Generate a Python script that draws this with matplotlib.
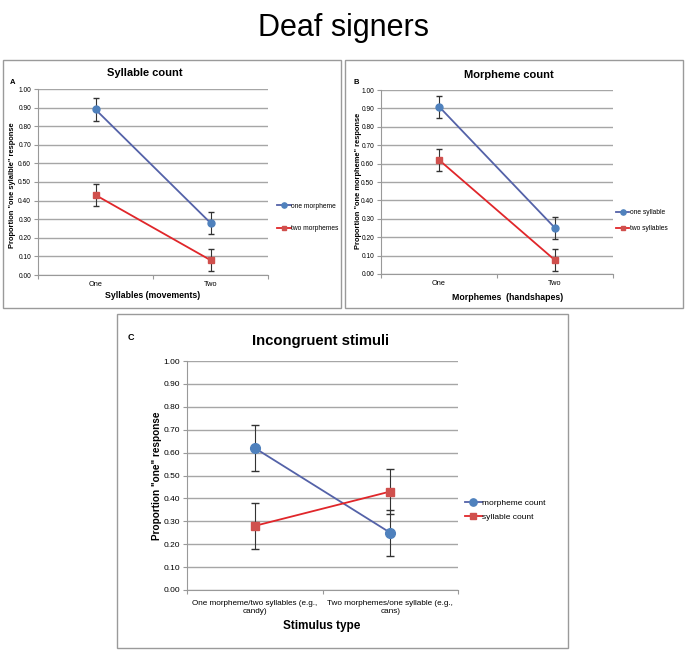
import matplotlib.pyplot as plt
from matplotlib.patches import Rectangle
from matplotlib.lines import Line2D
import numpy as np

plt.rcParams['font.family'] = ['Liberation Sans', 'DejaVu Sans']

W, H = 686, 652

# panel A: syllable count
a_cats = ["One", "Two"]
a_one_morph = [0.89, 0.28]
a_one_morph_err = [0.06, 0.06]
a_two_morph = [0.43, 0.08]
a_two_morph_err = [0.06, 0.06]

# panel B: morpheme count
b_cats = ["One", "Two"]
b_one_syl = [0.91, 0.25]
b_one_syl_err = [0.06, 0.06]
b_two_syl = [0.62, 0.075]
b_two_syl_err = [0.06, 0.06]

# panel C: incongruent stimuli
c_cats = ["One morpheme/two syllables (e.g.,\ncandy)",
          "Two morphemes/one syllable (e.g.,\ncans)"]
c_morph = [0.62, 0.25]
c_morph_err = [0.10, 0.10]
c_syl = [0.28, 0.43]
c_syl_err = [0.10, 0.10]

BLUE_LINE = "#5462a8"
BLUE_MARK = "#4f81bd"
RED_LINE = "#e0262a"
RED_MARK = "#d0504d"
GRID = "#a6a6a6"
AXC = "#999999"


def frac(x0, y0, x1, y1):
    # pixel box (top-left origin) -> figure fraction rect
    return [x0 / W, 1 - y1 / H, (x1 - x0) / W, (y1 - y0) / H]


def ptext(x, y, s, **kw):
    kw.setdefault("ha", "center")
    kw.setdefault("va", "center")
    fig.text(x / W, 1 - y / H, s, **kw)


fig = plt.figure(figsize=(W / 100, H / 100), dpi=100)
ptext(343, 28, "Deaf signers", fontsize=22)

# panel frames
for box in [(3, 60, 341, 308), (345, 60, 683, 308), (117, 314, 568, 648)]:
    fig.patches.append(Rectangle((box[0] / W, 1 - box[3] / H),
                                 (box[2] - box[0]) / W, (box[3] - box[1]) / H,
                                 transform=fig.transFigure, fill=False,
                                 edgecolor="#9a9a9a", linewidth=1.0))


def panel(rect, cats, s1, e1, s2, e2, labels, tick_fs, cat_fs, ms, cap,
          leg_anchor, leg_fs, leg_space, cat_pad=4):
    ax = fig.add_axes(frac(*rect))
    x = np.arange(len(cats)) + 0.5
    ax.plot(x, s1, color=BLUE_LINE, lw=1.3, zorder=3)
    ax.plot(x, s2, color=RED_LINE, lw=1.3, zorder=3)
    ax.errorbar(x, s1, yerr=e1, fmt="none", ecolor="#333333",
                elinewidth=0.8, capsize=cap, zorder=4)
    ax.errorbar(x, s2, yerr=e2, fmt="none", ecolor="#333333",
                elinewidth=0.8, capsize=cap, zorder=4)
    ax.plot(x, s1, "o", ms=ms, color=BLUE_MARK, zorder=5)
    ax.plot(x, s2, "s", ms=ms * 0.9, color=RED_MARK, zorder=5)
    ax.set_xlim(0, len(cats))
    ax.set_ylim(0, 1.0)
    yt = np.arange(0, 1.01, 0.1)
    ax.set_yticks(yt)
    ax.set_yticklabels([f"{v:.2f}" for v in yt], fontsize=tick_fs)
    ax.set_xticks([0, 1, 2])
    ax.set_xticklabels([])
    ax.set_xticks(x, minor=True)
    ax.set_xticklabels(cats, minor=True, fontsize=cat_fs, linespacing=1.35)
    ax.tick_params(axis="x", which="minor", length=0, pad=cat_pad)
    ax.tick_params(axis="x", which="major", length=3, color=AXC)
    ax.tick_params(axis="y", length=3, color=AXC, pad=2)
    ax.yaxis.grid(True, color=GRID, lw=1.0)
    ax.set_axisbelow(True)
    for s in ["top", "right"]:
        ax.spines[s].set_visible(False)
    for s in ["left", "bottom"]:
        ax.spines[s].set_color(AXC)
    handles = [
        Line2D([], [], color=BLUE_LINE, lw=1.3, marker="o", ms=ms * 0.75,
               mfc=BLUE_MARK, mec=BLUE_MARK),
        Line2D([], [], color=RED_LINE, lw=1.3, marker="s", ms=ms * 0.7,
               mfc=RED_MARK, mec=RED_MARK),
    ]
    ax.legend(handles, labels, loc="center left", bbox_to_anchor=leg_anchor,
              frameon=False, fontsize=leg_fs, handlelength=2.0,
              handletextpad=0.05, labelspacing=leg_space, borderpad=0,
              borderaxespad=0)
    return ax


axA = panel((38, 89, 268, 275), a_cats, a_one_morph, a_one_morph_err,
            a_two_morph, a_two_morph_err, ["one morpheme", "two morphemes"],
            4.8, 5.3, 5, 2.2, (1.04, 0.31), 4.8, 2.3)
ptext(145, 73, "Syllable count", fontsize=8, fontweight="bold")
ptext(153, 296, "Syllables (movements)", fontsize=6.3, fontweight="bold")
ptext(13, 185, 'Proportion "one sylalble" response', fontsize=5.4,
      fontweight="bold", rotation=90)
ptext(13, 83, "A", fontsize=5.5, fontweight="bold")

axB = panel((381, 90, 613, 274), b_cats, b_one_syl, b_one_syl_err,
            b_two_syl, b_two_syl_err, ["one syllable", "two syllables"],
            4.8, 5.3, 5, 2.2, (1.013, 0.29), 4.8, 1.3)
ptext(509, 75, "Morpheme count", fontsize=8, fontweight="bold")
ptext(508, 298, "Morphemes  (handshapes)", fontsize=6.3, fontweight="bold")
ptext(358, 181, 'Proportion "one morpheme" response', fontsize=5.4,
      fontweight="bold", rotation=90)
ptext(356, 83, "B", fontsize=5.5, fontweight="bold")

axC = panel((187, 361, 458, 590), c_cats, c_morph, c_morph_err,
            c_syl, c_syl_err, ["morpheme count", "syllable count"],
            6.0, 5.9, 7, 3, (1.026, 0.35), 6.0, 0.8, cat_pad=7)
ptext(320, 341, "Incongruent stimuli", fontsize=10.7, fontweight="bold")
ptext(322, 626, "Stimulus type", fontsize=8.5, fontweight="bold")
ptext(157, 476, 'Proportion "one" response', fontsize=7.2,
      fontweight="bold", rotation=90)
ptext(131, 337, "C", fontsize=6.5, fontweight="bold")

fig.savefig("out.png", dpi=100)
